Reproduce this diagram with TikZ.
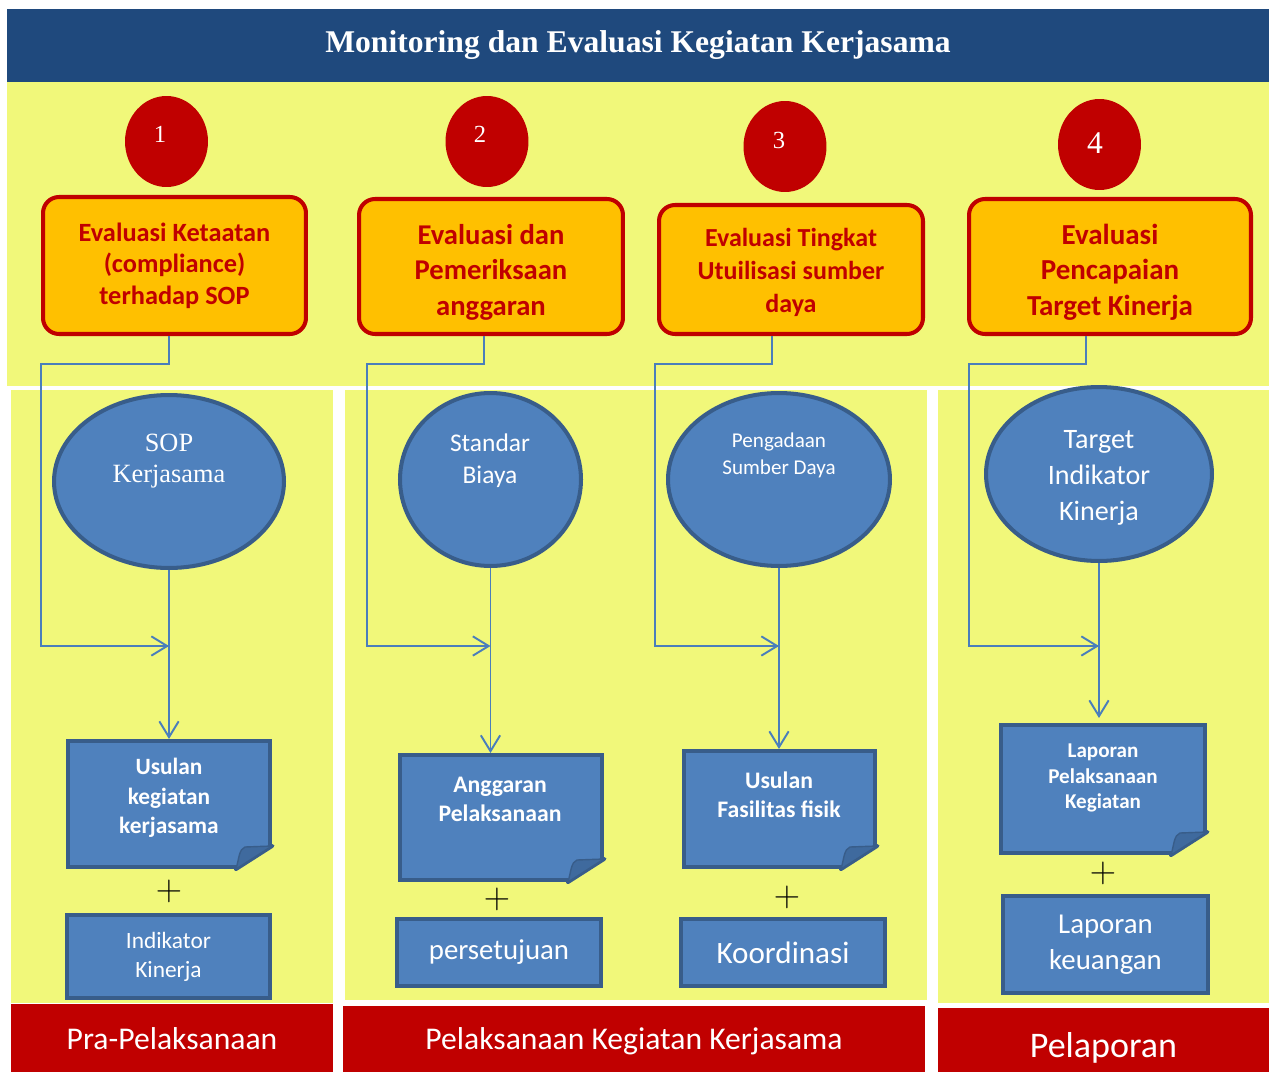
\documentclass[tikz,border=0pt]{standalone}
\usepackage{fontspec}
\setmainfont{Carlito}
\newfontfamily\tnr{Liberation Serif}
\usepackage{tikz}
\usetikzlibrary{calc,shapes.geometric,arrows.meta}
\definecolor{hdr}{HTML}{1F497D}
\definecolor{pale}{HTML}{F1F87A}
\definecolor{deepred}{HTML}{C00000}
\definecolor{amber}{HTML}{FFC000}
\definecolor{steel}{HTML}{4F81BD}
\definecolor{steeldk}{HTML}{385D8A}
\definecolor{wire}{HTML}{4A7EBB}
\definecolor{fold}{HTML}{3F6A9E}
\tikzset{
  headbar/.style={fill=hdr, text=white, inner sep=0pt, minimum width=25.24cm, minimum height=1.46cm, font=\tnr\bfseries\fontsize{18}{22}\selectfont},
  num/.style={ellipse, fill=deepred, inner sep=0pt, minimum width=1.66cm, minimum height=1.82cm},
  numtxt/.style={text=white, inner sep=0pt, font=\tnr\fontsize{14}{16}\selectfont},
  evalbox/.style={draw=deepred, fill=amber, line width=2.3pt, rounded corners=0.32cm, text=deepred, align=center, inner sep=0pt, font=\bfseries\fontsize{15}{18}\selectfont},
  src/.style={ellipse, draw=steeldk, fill=steel, line width=2.3pt, inner sep=0pt},
  srctxt/.style={text=white, align=center, font=\fontsize{14.5}{18}\selectfont},
  doc/.style={draw=steeldk, fill=steel, line width=2.3pt, inner sep=0pt},
  doctxt/.style={text=white, align=center, font=\bfseries\fontsize{13.3}{16.8}\selectfont},
  flatbox/.style={draw=steeldk, fill=steel, line width=2.3pt, inner sep=0pt, text=white, align=center},
  plussign/.style={inner sep=0pt, font=\fontsize{22}{22}\selectfont},
  phase/.style={fill=deepred, text=white, inner sep=0pt, font=\fontsize{18}{22}\selectfont},
  conn/.style={draw=wire, line width=1.1pt, -{Straight Barb[length=9pt,width=11pt]}},
}

\begin{document}
\begin{tikzpicture}[x=0.02cm, y=-0.02cm]
  \useasboundingbox (0,0) rectangle (1269,1072);

  % panels
  \fill[pale] (7,82) rectangle (1269,386);
  \fill[pale] (11,390) rectangle (333,1003);
  \fill[pale] (345,390) rectangle (927,1000);
  \fill[pale] (938,390) rectangle (1269,1003);

  \node[headbar] (head) at (638,45.5) {Monitoring dan Evaluasi Kegiatan Kerjasama};

  % numbered markers
  \node[num] (n1) at (166.5,141.5) {};
  \node[num] (n2) at (487,141.5) {};
  \node[num] (n3) at (785,146.5) {};
  \node[num] (n4) at (1099.5,144.5) {};
  \node[numtxt] (n1t) at (160,134) {1};
  \node[numtxt] (n2t) at (480,134) {2};
  \node[numtxt] (n3t) at (779,140) {3};
  \node[numtxt, font=\tnr\fontsize{18}{20}\selectfont] (n4t) at (1095,143) {4};

  % evaluation boxes
  \node[evalbox, minimum width=5.26cm, minimum height=2.74cm] (o1) at (174.5,265.5) {Evaluasi Ketaatan\\(compliance)\\terhadap SOP};
  \node[evalbox, minimum width=5.28cm, minimum height=2.70cm, font=\bfseries\fontsize{16.3}{20.4}\selectfont] (o2) at (491,266.5) {\rule{0pt}{18pt}Evaluasi dan\\Pemeriksaan\\anggaran};
  \node[evalbox, minimum width=5.28cm, minimum height=2.58cm, font=\bfseries\fontsize{14.8}{18.7}\selectfont] (o3) at (791,269.5) {\rule{0pt}{14pt}Evaluasi Tingkat\\Utuilisasi sumber\\daya};
  \node[evalbox, minimum width=5.64cm, minimum height=2.70cm, font=\bfseries\fontsize{16.5}{20.4}\selectfont] (o4) at (1110,266.5) {\rule{0pt}{18pt}Evaluasi\\Pencapaian\\Target Kinerja};

  % sources
  \node[src, minimum width=4.60cm, minimum height=3.46cm] (e1) at (169,481.5) {};
  \node[src, minimum width=3.62cm, minimum height=3.46cm] (e2) at (490.5,479.5) {};
  \node[src, minimum width=4.44cm, minimum height=3.46cm] (e3) at (779,479.5) {};
  \node[src, minimum width=4.52cm, minimum height=3.48cm] (e4) at (1099,474) {};
  \node[srctxt, font=\tnr\fontsize{15}{18}\selectfont] (e1t) at (169,461) {SOP\\Kerjasama};
  \node[srctxt] (e2t) at (490,461) {Standar\\Biaya};
  \node[srctxt, font=\fontsize{12}{15.3}\selectfont] (e3t) at (779,455) {Pengadaan\\Sumber Daya};
  \node[srctxt, font=\fontsize{16}{20.4}\selectfont] (e4t) at (1099,478) {Target\\Indikator\\Kinerja};

  % documents
  \node[doc, minimum width=4.04cm, minimum height=2.52cm] (d1) at (169,804) {};
  \node[doc, minimum width=4.04cm, minimum height=2.50cm] (d2) at (501,817.5) {};
  \node[doc, minimum width=3.82cm, minimum height=2.32cm] (d3) at (779.5,809) {};
  \node[doc, minimum width=4.08cm, minimum height=2.56cm] (d4) at (1103,789) {};
  \foreach \dn in {d1,d2,d3,d4}{
    \fill[pale] ($(\dn.south east)+(-36,0)$) -- ++(0,5) -- ($(\dn.south east)+(5,5)$)
      -- ($(\dn.south east)+(5,-23)$) -- ($(\dn.south east)+(0,-23)$) -- cycle;
    \draw[steeldk, line width=2.3pt, line cap=round] ($(\dn.south east)+(-36,0)$) -- ($(\dn.south east)+(0,-23)$);
    \filldraw[fill=fold, draw=steeldk, line width=0.8pt] ($(\dn.south east)+(-36,0)$)
      .. controls ($(\dn.south east)+(-33,-10)$) and ($(\dn.south east)+(-33,-20)$) .. ($(\dn.south east)+(-27,-22)$)
      -- ($(\dn.south east)+(0,-23)$) -- cycle;
  }
  \node[doctxt] (d1t) at (169,798) {Usulan\\kegiatan\\kerjasama};
  \node[doctxt, font=\bfseries\fontsize{13.5}{16.5}\selectfont] (d2t) at (500,799) {Anggaran\\Pelaksanaan};
  \node[doctxt, font=\bfseries\fontsize{13.5}{16.5}\selectfont] (d3t) at (779,795) {Usulan\\Fasilitas fisik};
  \node[doctxt, font=\bfseries\fontsize{12}{14.7}\selectfont] (d4t) at (1103,778) {Laporan\\Pelaksanaan\\Kegiatan};

  % plus signs
  \node[plussign] (p1) at (169,891) {$+$};
  \node[plussign] (p2) at (497,899) {$+$};
  \node[plussign] (p3) at (787,897) {$+$};
  \node[plussign] (p4) at (1103,873) {$+$};

  % companion boxes
  \node[flatbox, minimum width=4.06cm, minimum height=1.66cm, font=\fontsize{13.3}{16.4}\selectfont] (b1) at (168.5,956.5) {Indikator\\Kinerja};
  \node[flatbox, minimum width=4.08cm, minimum height=1.34cm, font=\fontsize{16.4}{20}\selectfont] (b2) at (499,952.5) {persetujuan};
  \node[flatbox, minimum width=4.08cm, minimum height=1.34cm, font=\fontsize{17.7}{21}\selectfont] (b3) at (783,952.5) {Koordinasi};
  \node[flatbox, minimum width=4.10cm, minimum height=1.94cm, font=\fontsize{16.4}{20.4}\selectfont] (b4) at (1105.5,944.5) {Laporan\\keuangan};

  % phases
  \node[phase, minimum width=6.44cm, minimum height=1.40cm] (r1) at (172,1039) {Pra-Pelaksanaan};
  \node[phase, minimum width=11.64cm, minimum height=1.40cm] (r2) at (634,1041) {Pelaksanaan Kegiatan Kerjasama};
  \node[phase, minimum width=6.62cm, minimum height=1.60cm, font=\fontsize{20.5}{24}\selectfont] (r3) at (1103.5,1048) {Pelaporan};

  % connectors
  \coordinate (j1) at (e1 |- 0,646);
  \coordinate (j2) at (e2 |- 0,646);
  \coordinate (j3) at (e3 |- 0,646);
  \coordinate (j4) at (e4 |- 0,646);
  \draw[conn] ($(o1.south)+(-5.5,0)$) |- (41,364) |- (j1);
  \draw[conn] ($(o2.south)+(-7,0)$) |- (367,364) |- (j2);
  \draw[conn] ($(o3.south)+(-19,0)$) |- (655,364) |- (j3);
  \draw[conn] ($(o4.south)+(-24,0)$) |- (969,364) |- (j4);
  \draw[conn] (e1.south) -- (e1.south |- d1.north);
  \draw[conn] (e2.south) -- (e2.south |- d2.north);
  \draw[conn] (e3.south) -- (e3.south |- d3.north);
  \draw[conn] (e4.south) -- ($(e4.south |- d4.north)+(0,-5)$);
\end{tikzpicture}
\end{document}
